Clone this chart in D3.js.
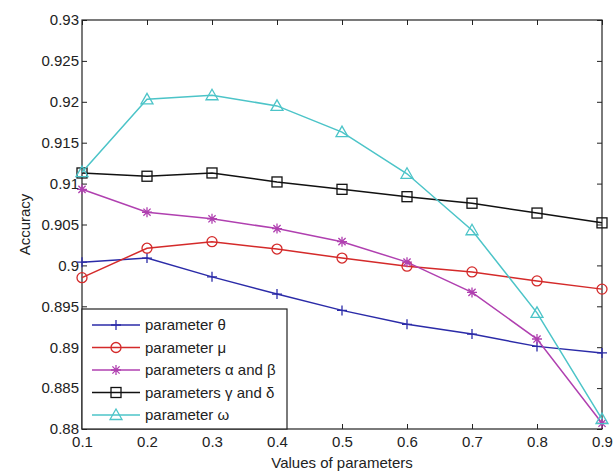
<!DOCTYPE html>
<html><head><meta charset="utf-8">
<script src="https://cdn.jsdelivr.net/npm/d3@7"></script>
<style>body{margin:0;background:#fff}svg{display:block}</style>
</head><body>
<script>
const xValues = [0.1,0.2,0.3,0.4,0.5,0.6,0.7,0.8,0.9];
const theta = [0.9004,0.9009,0.8986,0.8965,0.8945,0.8928,0.8916,0.8901,0.8893];
const mu = [0.8985,0.9021,0.9029,0.9020,0.9009,0.8999,0.8992,0.8981,0.8971];
const alphaBeta = [0.9093,0.9065,0.9057,0.9045,0.9029,0.9004,0.8967,0.8910,0.8807];
const gammaDelta = [0.9113,0.9109,0.9113,0.9102,0.9093,0.9084,0.9076,0.9064,0.9052];
const omega = [0.9114,0.9203,0.9208,0.9195,0.9163,0.9112,0.9043,0.8942,0.8812];
const seriesNames = ["parameter θ","parameter μ","parameters α and β","parameters γ and δ","parameter ω"];
const xTicks = [0.1,0.2,0.3,0.4,0.5,0.6,0.7,0.8,0.9];
const yTicks = [0.88,0.885,0.89,0.895,0.9,0.905,0.91,0.915,0.92,0.925,0.93];

const colors = ["#2b2ba8","#d42a2a","#b040b0","#111111","#4cc4c8"];
const markers = ["plus","circle","star","square","triangle"];
const series = [theta,mu,alphaBeta,gammaDelta,omega];

const W=614,H=471, L=82,R=602,T=20,B=429;
const svg = d3.select("body").append("svg").attr("width",W).attr("height",H);
const x = d3.scaleLinear().domain([0.1,0.9]).range([L,R]);
const y = d3.scaleLinear().domain([0.88,0.93]).range([B,T]);
const font = "Arial, 'Liberation Sans', sans-serif";
const fs = 15;

// axes (ticks inward)
const fmt = d => String(+d.toFixed(3));
svg.append("g").attr("transform",`translate(0,${B})`)
  .call(d3.axisBottom(x).tickValues(xTicks).tickFormat(fmt).tickSizeInner(-5).tickSizeOuter(0).tickPadding(7));
svg.append("g").attr("transform",`translate(${L},0)`)
  .call(d3.axisLeft(y).tickValues(yTicks).tickFormat(fmt).tickSizeInner(-5).tickSizeOuter(0).tickPadding(3));
svg.append("g").attr("transform",`translate(0,${T})`)
  .call(d3.axisTop(x).tickValues(xTicks).tickFormat("").tickSizeInner(-5).tickSizeOuter(0));
svg.append("g").attr("transform",`translate(${R},0)`)
  .call(d3.axisRight(y).tickValues(yTicks).tickFormat("").tickSizeInner(-5).tickSizeOuter(0));
svg.selectAll(".domain").remove();
svg.selectAll(".tick line").attr("stroke","#222");
svg.selectAll(".tick text").attr("font-family",font).attr("font-size",fs).attr("fill","#222");
svg.append("rect").attr("x",L).attr("y",T).attr("width",R-L).attr("height",B-T)
  .attr("fill","none").attr("stroke","#222").attr("stroke-width",1.2);

function drawMarker(g, type, cx, cy, color){
  const s=5;
  if(type==="plus"){
    g.append("path").attr("d",`M${cx-s},${cy}H${cx+s}M${cx},${cy-s}V${cy+s}`).attr("stroke",color).attr("stroke-width",1.3);
  } else if(type==="circle"){
    g.append("circle").attr("cx",cx).attr("cy",cy).attr("r",s).attr("fill","none").attr("stroke",color).attr("stroke-width",1.3);
  } else if(type==="star"){
    g.append("path").attr("d",`M${cx-s},${cy}H${cx+s}M${cx},${cy-s}V${cy+s}M${cx-3.6},${cy-3.6}L${cx+3.6},${cy+3.6}M${cx-3.6},${cy+3.6}L${cx+3.6},${cy-3.6}`).attr("stroke",color).attr("stroke-width",1.3);
  } else if(type==="square"){
    g.append("rect").attr("x",cx-s).attr("y",cy-s).attr("width",2*s).attr("height",2*s).attr("fill","none").attr("stroke",color).attr("stroke-width",1.3);
  } else if(type==="triangle"){
    g.append("path").attr("d",`M${cx},${cy-6}L${cx+6},${cy+4.5}L${cx-6},${cy+4.5}Z`).attr("fill","none").attr("stroke",color).attr("stroke-width",1.3);
  }
}

const line = d3.line().x((d,i)=>x(xValues[i])).y(d=>y(d));
series.forEach((s,k)=>{
  const g = svg.append("g");
  g.append("path").datum(s).attr("d",line).attr("fill","none").attr("stroke",colors[k]).attr("stroke-width",1.5);
  s.forEach((v,i)=>drawMarker(g,markers[k],x(xValues[i]),y(v),colors[k]));
});

// legend
const lg = svg.append("g");
lg.append("rect").attr("x",L).attr("y",309).attr("width",205).attr("height",B-309)
  .attr("fill","#fff").attr("stroke","#222").attr("stroke-width",1.2);
seriesNames.forEach((n,k)=>{
  const yy = 325 + k*22.5;
  lg.append("line").attr("x1",92).attr("x2",140).attr("y1",yy).attr("y2",yy).attr("stroke",colors[k]).attr("stroke-width",1.5);
  drawMarker(lg,markers[k],116,yy,colors[k]);
  lg.append("text").attr("x",145).attr("y",yy+5).text(n).attr("font-family",font).attr("font-size",fs).attr("fill","#222");
});

svg.append("text").attr("x",(L+R)/2).attr("y",468).attr("text-anchor","middle")
  .attr("font-family",font).attr("font-size",fs).attr("fill","#222").text("Values of parameters");
svg.append("text").attr("transform",`translate(30,${(T+B)/2}) rotate(-90)`).attr("text-anchor","middle")
  .attr("font-family",font).attr("font-size",fs).attr("fill","#222").text("Accuracy");
</script>
</body></html>
